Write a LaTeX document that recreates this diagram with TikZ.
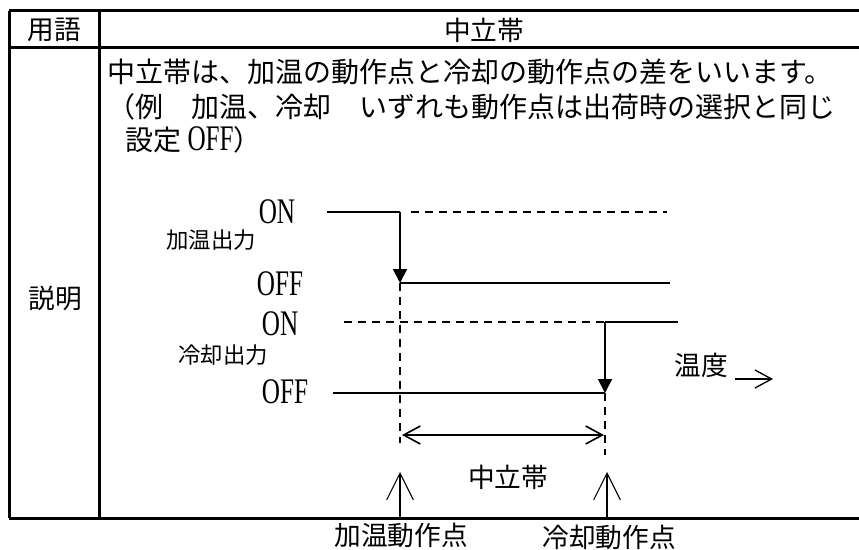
\documentclass[tikz,border=0pt]{standalone}
\usepackage{fontspec}
\setmainfont{Noto Sans CJK JP}
\newfontfamily\onofffont[FakeStretch=0.7]{Liberation Serif}
\usetikzlibrary{arrows.meta}
\newcommand{\outlabel}[1]{\scalebox{0.84}{#1}}

\tikzset{
    frame/.style={line width=2.25pt},
    sig/.style={line width=1.5pt},
    sigdash/.style={line width=1.5pt, dash pattern=on 6pt off 4.5pt},
    drop/.style={line width=1.5pt, -{Triangle[length=10.5pt, width=10.5pt]}},
    txt/.style={inner sep=0pt, font=\fontsize{20pt}{24pt}\selectfont},
    lbl/.style={inner sep=0pt, font=\fontsize{20pt}{24pt}\selectfont},
    lvl/.style={inner sep=0pt, font=\onofffont\fontsize{27pt}{30pt}\selectfont},
    pointer/.style={line width=0.8pt, -{Straight Barb[length=20pt, width=20pt]}}
}

\begin{document}
\begin{tikzpicture}[x=0.75pt, y=-0.75pt]
    \useasboundingbox (0,0) rectangle (859,549);

    % Table frame
    \coordinate (tl) at (9,11);
    \coordinate (tr) at (859,11);
    \coordinate (ml) at (9,48);
    \coordinate (mr) at (859,48);
    \coordinate (bl) at (9,518);
    \coordinate (br) at (859,518);
    \coordinate (ct) at (99,11);
    \coordinate (cb) at (99,518);
    \draw [frame] (tl) -- (tr) (ml) -- (mr) (bl) -- (br);
    \draw [frame] (tl) -- (bl) (ct) -- (cb);

    % Header and text
    \node [txt] (term) at (54,30) {用語};
    \node [txt] (name) at (484,30) {中立帯};
    \node [txt] (desc) at (55,298) {説明};
    \node [txt, anchor=west, font=\fontsize{21pt}{24pt}\selectfont] (line1) at (107,72) {中立帯は、加温の動作点と冷却の動作点の差をいいます。};
    \node [txt, anchor=west, font=\fontsize{21pt}{24pt}\selectfont] (line2) at (107,107) {（例　加温、冷却　いずれも動作点は出荷時の選択と同じ};
    \node [txt, anchor=west, font=\fontsize{21pt}{24pt}\selectfont] (line3) at (125,140) {設定 {\onofffont\fontsize{27pt}{30pt}\selectfont OFF}）};

    % Heating output
    \coordinate (hOnL) at (327,212);
    \coordinate (hSw) at (400,212);
    \coordinate (hOnR) at (667,212);
    \coordinate (hOff) at (400,283);
    \coordinate (hOffR) at (670,283);
    \coordinate (hDown) at (400,443);
    \draw [sig] (hOnL) -- (hSw);
    \draw [sigdash] ([xshift=8]hSw) -- (hOnR);
    \draw [drop] (hSw) -- (hOff);
    \draw [sig] (hOff) -- (hOffR);
    \node [lvl] (hOn) at (277,212) {ON};
    \node [lbl, anchor=west] (hName) at (166,240) {\outlabel{加温出力}};
    \node [lvl] (hOffTxt) at (280,284) {OFF};

    % Cooling output
    \coordinate (cOnL) at (344,322);
    \coordinate (cSw) at (605,322);
    \coordinate (cOnR) at (678,322);
    \coordinate (cOff) at (605,393);
    \coordinate (cOffL) at (333,393);
    \coordinate (cDown) at (605,455);
    \draw [sigdash] (cOnL) -- (cSw);
    \draw [sig] (cSw) -- (cOnR);
    \draw [drop] (cSw) -- (cOff);
    \draw [sig] (cOffL) -- (cOff);
    \node [lvl] (cOn) at (280,324) {ON};
    \node [lbl, anchor=west] (cName) at (178,355) {\outlabel{冷却出力}};
    \node [lvl] (cOffTxt) at (285,392) {OFF};

    % Temperature
    \node [txt] (temp) at (701,365) {温度};
    \coordinate (tA) at (735,379);
    \coordinate (tB) at (773,379);
    \draw [line width=1pt, -{Straight Barb[length=12.5pt, width=13.5pt]}] (tA) -- (tB);

    % Dead band
    \draw [sigdash] (hOff) -- (hDown);
    \draw [sigdash] (cOff) -- (cDown);
    \coordinate (bandL) at (402,435);
    \coordinate (bandR) at (604,435);
    \draw [line width=1.2pt, {Straight Barb[length=12.5pt, width=13.5pt]}-{Straight Barb[length=12.5pt, width=13.5pt]}] (bandL) -- (bandR);
    \node [txt] (band) at (508,477) {中立帯};

    % Set points
    \coordinate (hBase) at (400,517);
    \coordinate (hTip) at (400,472);
    \coordinate (cBase) at (607,517);
    \coordinate (cTip) at (607,472);
    \draw [pointer] (hBase) -- (hTip);
    \draw [pointer] (cBase) -- (cTip);
    \node [txt] (hSet) at (401,535) {加温動作点};
    \node [txt] (cSet) at (609,537) {冷却動作点};
\end{tikzpicture}
\end{document}
